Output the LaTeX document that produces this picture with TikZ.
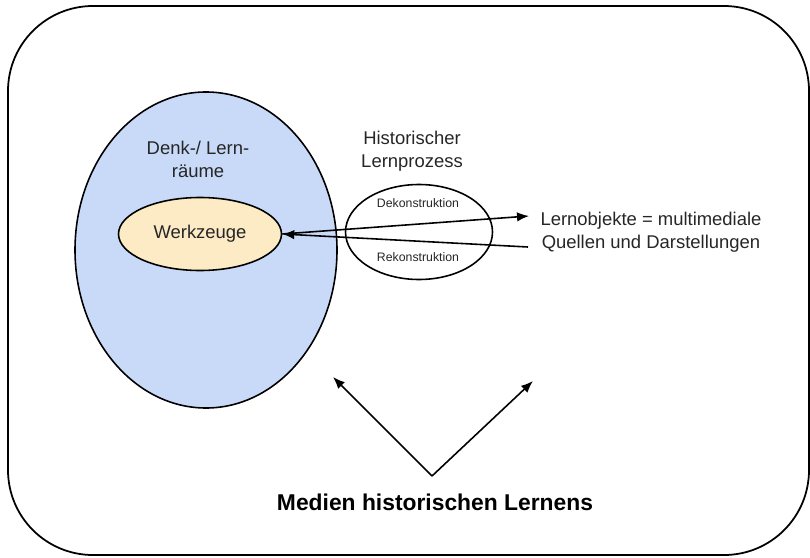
\documentclass[tikz,border=0pt]{standalone}
\usepackage{fontspec}
\setmainfont{Liberation Sans}
\usetikzlibrary{positioning,shapes.geometric,arrows.meta}
\definecolor{raumblau}{HTML}{C9DAF8}
\definecolor{werkgelb}{HTML}{FCEBC4}
\tikzset{
  bubble/.style={ellipse,draw=black,line width=0.9pt,inner sep=0pt},
  label/.style={align=center,font=\fontsize{10.5}{13}\selectfont,text=black!85},
  small/.style={font=\fontsize{7}{8}\selectfont,text=black!85},
  flow/.style={-{Latex[length=2.4mm,width=1.9mm]},line width=0.9pt,draw=black}
}
\begin{document}
\begin{tikzpicture}[x=0.02cm,y=-0.02cm]
\useasboundingbox (0,0) rectangle (810,557);
% Rahmen
\draw[line width=1pt,rounded corners=85*0.02cm] (8,6) rectangle (809,555);

\node[bubble,fill=raumblau,minimum width=262*0.02cm,minimum height=316*0.02cm] (raum) at (206,250) {};
\node[label] (raumtxt) at (198,159) {Denk-/ Lern-\\räume};
\node[bubble,fill=werkgelb,minimum width=163*0.02cm,minimum height=73*0.02cm,label] (werk) at (200,234) {Werkzeuge};

\node[bubble,minimum width=147*0.02cm,minimum height=95*0.02cm] (prozess) at (419,232) {};
\node[label] (prozesstxt) at (412,151) {Historischer\\Lernprozess};
\node[small] (dekon) at (418,203) {Dekonstruktion};
\node[small] (rekon) at (418,257) {Rekonstruktion};

\node[label] (lobj) at (651,232) {Lernobjekte = multimediale\\Quellen und Darstellungen};
\coordinate (lobjoben) at (529,216);
\coordinate (lobjunten) at (528,247);

\draw[flow] (werk.east) -- (lobjoben);
\draw[flow] (lobjunten) -- (werk.east);

% Medien
\node[font=\fontsize{13}{15}\selectfont\bfseries] (medien) at (435,502) {Medien historischen Lernens};
\coordinate (spitze) at (432,476);
\coordinate (links) at (333,377);
\coordinate (rechts) at (533,381);
\draw[flow] (spitze) -- (links);
\draw[flow] (spitze) -- (rechts);
\end{tikzpicture}
\end{document}
